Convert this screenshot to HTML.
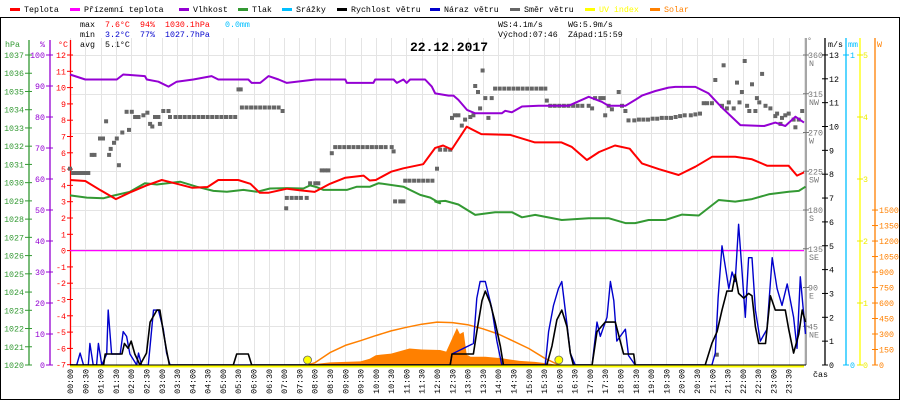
<!DOCTYPE html>
<html><head><meta charset="utf-8"><style>
html,body{margin:0;padding:0;background:#fff;}
svg{display:block;font-family:"Liberation Mono",monospace;font-size:8.3px;}
</style></head><body>
<svg id="chart" width="900" height="400" viewBox="0 0 900 400">
<rect x="0.5" y="17.5" width="899" height="382" fill="#fff" stroke="#000"/>
<g id="legend"></g>
<g>
<text x="80" y="27" fill="#000">max</text><text x="105" y="27" fill="#f00">7.6°C</text><text x="140" y="27" fill="#f00">94%</text><text x="165" y="27" fill="#f00">1030.1hPa</text><text x="225" y="27" fill="#00bfff">0.0mm</text>
<text x="80" y="37" fill="#000">min</text><text x="105" y="37" fill="#00c">3.2°C</text><text x="140" y="37" fill="#00c">77%</text><text x="165" y="37" fill="#00c">1027.7hPa</text>
<text x="80" y="47" fill="#000">avg</text><text x="105" y="47" fill="#000">5.1°C</text>
<text x="498" y="27" fill="#000">WS:4.1m/s</text><text x="568" y="27" fill="#000">WG:5.9m/s</text>
<text x="498" y="37" fill="#000">Východ:07:46</text><text x="568" y="37" fill="#000">Západ:15:59</text>
</g>
<g id="grid"></g>
<g id="axes"></g>
<g id="series"></g>
<g id="xlabels"></g>
<text x="449" y="51" text-anchor="middle" font-size="13" font-weight="bold" fill="#000">22.12.2017</text>
</svg>
<script>
const tempTimes=[0,0.5,1,1.5,2,2.5,3,3.5,4,4.5,4.85,5.5,5.9,6.2,6.5,7.1,7.5,8,8.5,9,9.6,9.8,10,10.5,10.9,11.55,11.94,12.2,12.48,12.97,13.45,14.4,15.2,15.7,16.07,16.4,16.9,17.3,17.82,18.3,18.7,19.25,19.9,20.45,21,21.75,22.3,22.8,23.5,23.77,24];
const tempValues=[4.33,4.27,3.7,3.16,3.6,4.0,4.33,4.1,3.85,3.9,4.33,4.33,4.1,3.55,3.55,3.8,3.7,3.6,4.1,4.47,4.6,4.3,4.33,4.84,5.05,5.3,6.3,6.45,6.2,7.6,7.15,7.1,6.64,6.64,6.64,6.37,5.56,6.05,6.45,6.25,5.35,5.0,4.64,5.15,5.76,5.76,5.6,5.2,5.2,4.6,4.8];
const humTimes=[0,0.5,1.53,1.74,2.45,2.51,2.89,3.22,3.49,4.03,4.63,4.85,5.83,5.94,6.22,6.49,6.82,7.09,8.02,9.0,9.05,9.92,9.98,10.58,10.69,10.9,11.01,11.12,11.61,11.83,11.94,12.38,12.54,12.7,12.98,13.25,14.12,14.23,14.45,14.78,15.32,15.65,16.3,16.96,17.39,17.61,18.16,18.48,18.7,19.14,19.57,19.79,20.45,20.88,21.32,21.92,22.7,23.06,23.39,23.72,24];
const humValues=[93.7,92.1,92.1,93.7,93.2,92.1,91.4,89.8,91.4,92.1,93.2,92.1,92.1,91.0,91.0,93.2,92.1,91.0,92.1,92.1,91.0,91.0,92.1,92.1,91.0,92.1,91.0,92.1,92.1,89.8,87.6,86.9,86.9,85.5,82.3,81.2,81.2,82.0,81.5,83.4,83.6,83.6,83.6,86.5,84.9,83.6,83.6,85.5,86.9,88.4,89.5,89.7,89.7,87.6,83.0,77.4,77.1,78.2,77.1,80.1,78.2];
const presTimes=[0,0.55,1.09,1.42,1.96,2.45,2.84,3.6,4.14,4.69,5.13,5.67,6.11,6.54,7.09,7.63,7.85,8.07,8.29,9.05,9.38,9.81,10.09,10.9,11.45,11.78,12.1,11.94,12.27,12.7,13.25,13.9,14.45,14.78,15.21,16.08,16.96,17.61,18.16,18.48,18.92,19.46,20.01,20.56,21.21,21.75,22.3,22.85,23.5,23.83,24.05];
const presValues=[1029.3,1029.18,1029.14,1029.29,1029.5,1029.97,1029.9,1030.05,1029.78,1029.55,1029.5,1029.6,1029.5,1029.68,1029.7,1029.68,1029.85,1029.75,1029.6,1029.6,1029.78,1029.78,1029.97,1029.78,1029.33,1029.18,1028.87,1028.96,1029.0,1028.8,1028.23,1028.38,1028.38,1028.1,1028.23,1027.95,1028.05,1028.05,1027.78,1027.78,1027.95,1027.95,1028.25,1028.2,1029.05,1028.96,1029.1,1029.36,1029.5,1029.55,1029.78];
const speedTimes=[0,1.1,1.15,1.7,1.78,1.9,2.0,2.12,2.29,2.5,2.62,2.84,2.94,3.05,3.16,3.25,5.34,5.45,5.83,5.94,12.43,12.49,13.19,13.3,13.47,13.58,13.74,13.9,14.07,14.17,15.59,15.76,15.92,16.08,16.25,16.36,16.46,17.07,17.23,17.5,17.83,17.99,18.1,18.43,18.48,20.77,20.99,21.16,21.32,21.48,21.65,21.75,21.86,22.03,22.19,22.3,22.41,22.52,22.74,22.9,23.06,23.39,23.5,23.66,23.83,23.94,24.05];
const speedValues=[0,0,0.46,0.46,0.9,0.7,1.0,0.46,0,0.5,1.8,2.3,2.3,1.4,0.6,0,0,0.46,0.46,0,0,0.46,0.46,1.4,2.7,3.1,2.6,1.8,0.8,0,0,0.8,1.9,2.3,1.6,0.5,0,0,1.4,1.8,1.8,1.0,0.46,0.46,0,0,0.91,1.4,2.3,3.1,3.1,3.8,3.0,2.8,3.0,2.9,1.6,0.9,0.9,2.9,2.3,2.3,1.5,0.5,1.3,2.3,1.8];
const gustTimes=[0,0.22,0.33,0.44,0.6,0.65,0.76,0.87,0.93,1.04,1.2,1.25,1.36,1.64,1.74,1.85,1.96,2.18,2.24,2.34,2.56,2.73,2.89,3.05,3.16,3.27,12.43,12.49,13.19,13.3,13.41,13.58,13.79,13.96,14.12,15.54,15.65,15.81,15.97,16.08,16.25,16.36,16.52,17.07,17.23,17.34,17.56,17.67,17.78,17.88,18.16,18.26,18.48,20.99,21.1,21.19,21.32,21.54,21.65,21.75,21.86,21.97,22.08,22.19,22.3,22.41,22.57,22.79,22.96,23.12,23.28,23.45,23.66,23.77,23.88,24.05];
const gustValues=[0,0,0.5,0,0,0.9,0,0,0.9,0,0.46,2.3,0.46,0.46,1.4,1.2,0.46,0,0.5,0,0,2.3,2.3,1.5,0.5,0,0,0.46,0.9,2.8,3.5,3.5,2.4,1.0,0,0,1.4,2.5,3.2,3.5,1.7,0.5,0,0,1.8,1.2,2.0,3.5,2.7,1.0,1.5,0.4,0,0,0.5,2.8,5.0,3.2,3.9,3.5,5.9,4.0,2.0,4.5,4.5,2.3,1.0,1.5,4.5,3.2,2.5,3.4,2.0,0.7,3.7,1.3,2.0];
const dirTimes=[0,0.1,0.2,0.3,0.4,0.5,0.6,0.71,0.8,0.98,1.08,1.18,1.28,1.33,1.44,1.53,1.6,1.71,1.85,1.93,2.02,2.13,2.24,2.4,2.53,2.62,2.69,2.78,2.89,2.94,3.05,3.22,3.27,3.45,3.6,3.75,3.9,4.05,4.2,4.35,4.5,4.65,4.8,4.95,5.1,5.25,5.4,5.51,5.58,5.62,5.77,5.92,6.07,6.22,6.37,6.52,6.67,6.82,6.95,7.07,7.09,7.25,7.4,7.55,7.74,7.85,8.02,8.12,8.23,8.34,8.45,8.56,8.67,8.82,8.97,9.12,9.27,9.42,9.57,9.72,9.87,10.02,10.17,10.32,10.52,10.58,10.63,10.8,10.9,10.96,11.1,11.25,11.4,11.55,11.7,11.85,12.0,12.1,12.27,12.43,12.49,12.59,12.7,12.81,12.92,13.09,13.19,13.25,13.34,13.41,13.49,13.58,13.68,13.79,13.9,14.05,14.2,14.35,14.5,14.65,14.8,14.95,15.1,15.25,15.4,15.54,15.59,15.7,15.85,16.0,16.15,16.3,16.45,16.6,16.75,16.96,17.07,17.17,17.34,17.45,17.5,17.61,17.72,17.94,18.05,18.16,18.26,18.45,18.6,18.75,18.9,19.05,19.2,19.35,19.5,19.65,19.8,19.95,20.1,20.3,20.45,20.6,20.72,20.83,20.99,21.1,21.15,21.32,21.37,21.48,21.54,21.7,21.81,21.89,21.97,22.06,22.14,22.21,22.3,22.41,22.46,22.54,22.63,22.74,22.9,23.06,23.12,23.23,23.28,23.39,23.5,23.66,23.72,23.83,23.94];
const dirValues=[228,223,223,223,223,223,223,244,244,263,263,283,244,251,258,263,232,270,294,273,294,288,288,290,293,280,277,288,288,280,295,295,288,288,288,288,288,288,288,288,288,288,288,288,288,288,288,320,320,299,299,299,299,299,299,299,299,299,295,182,194,194,194,194,194,211,211,211,226,226,226,246,253,253,253,253,253,253,253,253,253,253,253,253,253,248,190,190,190,214,214,214,214,214,214,214,228,250,250,250,287,290,290,278,285,288,290,324,317,298,342,310,287,310,321,321,321,321,321,321,321,321,321,321,321,321,307,301,301,301,301,301,301,301,301,301,298,310,310,310,290,301,297,317,301,295,284,284,285,285,285,286,286,287,287,287,288,289,290,290,291,292,304,304,304,331,12,301,348,298,305,298,328,305,317,353,301,295,326,295,310,305,338,301,298,289,292,280,287,290,292,285,276,285,295];
const solarTimes=[7.77,8.0,8.5,9.0,9.5,9.8,10.0,10.5,11.1,11.5,12.1,12.3,12.5,12.65,12.75,12.87,12.97,13.1,13.58,14.12,14.7,15.2,15.65,15.97];
const solarValues=[0,10,25,30,35,60,95,110,160,150,145,130,260,358,300,320,100,80,80,65,40,30,15,0];
const solarMaxTimes=[7.77,8.0,8.5,9.0,9.5,10.0,10.5,11.0,11.5,12.0,12.5,13.0,13.5,14.0,14.5,15.0,15.5,15.98];
const solarMaxValues=[0,20,120,190,235,285,330,365,395,415,410,390,350,300,230,160,70,0];
const uvTimes=[0,24];
const uvValues=[0,0];
const groundTempTimes=[0,24];
const groundTempValues=[0,0];
const tempTicks=[12,11,10,9,8,7,6,5,4,3,2,1,0,-1,-2,-3,-4,-5,-6,-7];
const humTicks=[100,90,80,70,60,50,40,30,20,10,0];
const presTicks=[1037,1036,1035,1034,1033,1032,1031,1030,1029,1028,1027,1026,1025,1024,1023,1022,1021,1020];
const dirTicks=[45,90,135,180,225,270,315,360];
const dirNames=["NE","E","SE","S","SW","W","NW","N"];
const speedTicks=[0,1,2,3,4,5,6,7,8,9,10,11,12,13];
const uvTicks=[0,1,2,3,4,5];
const solarTicks=[0,150,300,450,600,750,900,1050,1200,1350,1500];
const legendNames=["Teplota","Přízemní teplota","Vlhkost","Tlak","Srážky","Rychlost větru","Náraz větru","Směr větru","UV index","Solar"];
const legendColors=["#ff0000","#ff00ff","#9400d3","#339933","#00bfff","#000000","#0000cc","#666666","#ffff00","#ff8000"];
const legendX=[10,70,179,238,282,337,430,510,585,650];

const NS="http://www.w3.org/2000/svg";
const X0=70,X1=804,YB=365;
const xS=h=>X0+h*(X1-X0)/24;
const yT=t=>250.6-t*16.3;
const yH=p=>YB-p*3.1;
const yP=p=>YB-(p-1020)*18.235;
const yW=s=>YB-s*23.85;
const yD=d=>YB-d*0.8611;
const yS=w=>YB-w*0.1033;
const yU=u=>YB-u*62;
function mk(tag,attrs,parent){const e=document.createElementNS(NS,tag);for(const k in attrs)e.setAttribute(k,attrs[k]);parent.appendChild(e);return e;}
function txt(s,x,y,fill,anchor,parent){const e=mk('text',{x:x,y:y,fill:fill,'text-anchor':anchor||'start'},parent);e.textContent=s;return e;}
const G=id=>document.getElementById(id);

legendNames.forEach((n,i)=>{
  const g=mk('g',{},G('legend'));
  
  
  mk('rect',{x:legendX[i],y:8,width:10,height:3,fill:legendColors[i]},g);
  txt(n,legendX[i]+14,12,legendColors[i]==="#ffff00"?"#ffff00":(legendColors[i]==="#ff8000"?"#ff8000":"#000"),'start',g);
});

for(let k=0;k<=48;k++){const x=Math.round(xS(k/2))+0.5;const l=mk('line',{x1:x,y1:38,x2:x,y2:YB,stroke:'#e4e4e4','stroke-width':1},G('grid'));}
dirTicks.forEach(d=>{const y=Math.round(yD(d))+0.5;const l=mk('line',{x1:X0,y1:y,x2:X1+2,y2:y,stroke:'#e4e4e4','stroke-width':1},G('grid'));});

const A=G('axes');
function vaxis(x,y1,col,name){const l=mk('line',{x1:x,y1:y1,x2:x,y2:YB,stroke:col,'stroke-width':1.3},A);}
vaxis(29,40,'#339933','pressure-axis');vaxis(50,40,'#9400d3','humidity-axis');vaxis(70.5,40,'#ff0000','temperature-axis');
vaxis(806,38,'#777','direction-axis');vaxis(825,38,'#000','wind-speed-axis');vaxis(846,38,'#00bfff','rain-axis');vaxis(860,38,'#ffff00','uv-axis');vaxis(875,38,'#ff8000','solar-axis');
txt('hPa',5,47,'#339933','start',A);txt('%',40,47,'#9400d3','start',A);txt('°C',58,47,'#ff0000','start',A);
txt('°',807,43,'#777','start',A);txt('m/s',828,47,'#000','start',A);txt('mm',848,47,'#00bfff','start',A);txt('W',877,47,'#ff8000','start',A);
presTicks.forEach(p=>{const y=yP(p);mk('line',{x1:25,y1:y,x2:32,y2:y,stroke:'#339933'},A);txt(String(p),24,y+3,'#339933','end',A);});
humTicks.forEach(p=>{const y=yH(p);mk('line',{x1:46,y1:y,x2:53,y2:y,stroke:'#9400d3'},A);txt(String(p),45,y+3,'#9400d3','end',A);});
tempTicks.forEach(t=>{const y=yT(t);mk('line',{x1:67,y1:y,x2:73,y2:y,stroke:'#ff0000'},A);txt(String(t),66,y+3,'#ff0000','end',A);});
dirTicks.forEach((d,i)=>{const y=yD(d);mk('line',{x1:803,y1:y,x2:809,y2:y,stroke:'#777'},A);txt(String(d),808,y+3,'#777','start',A);txt(dirNames[i],809,y+11,'#777','start',A);});
speedTicks.forEach(s=>{const y=yW(s);mk('line',{x1:822,y1:y,x2:828,y2:y,stroke:'#000'},A);txt(String(s),829,y+3,'#000','start',A);});
[0,1].forEach(m=>{const y=YB-m*310;mk('line',{x1:843,y1:y,x2:849,y2:y,stroke:'#00bfff'},A);txt(String(m),850,y+3,'#00bfff','start',A);});
uvTicks.forEach(u=>{const y=yU(u);mk('line',{x1:857,y1:y,x2:863,y2:y,stroke:'#eeee00'},A);txt(String(u),863,y+3,'#eeee00','start',A);});
solarTicks.forEach(w=>{const y=yS(w);mk('line',{x1:872,y1:y,x2:878,y2:y,stroke:'#ff8000'},A);txt(String(w),879,y+3,'#ff8000','start',A);});
txt('čas',813,377,'#000','start',A);

for(let k=0;k<48;k++){const h=Math.floor(k/2),m=k%2?'30':'00';const s=(h<10?'0':'')+h+':'+m;const x=xS(k/2)+3;const t=mk('text',{x:0,y:0,transform:`translate(${x},369) rotate(-90)`,'text-anchor':'end',fill:'#000'},G('xlabels'));t.textContent=s;}

const S=G('series');
function pts(ts,vs,fy){return ts.map((t,i)=>xS(t).toFixed(1)+','+fy(vs[i]).toFixed(1)).join(' ');}
function line(ts,vs,fy,col,w,name){const p=mk('polyline',{points:pts(ts,vs,fy),fill:'none',stroke:col,'stroke-width':w,'stroke-linejoin':'round'},S);return p;}
{const p=mk('polygon',{points:xS(solarTimes[0]).toFixed(1)+','+YB+' '+pts(solarTimes,solarValues,yS)+' '+xS(solarTimes[solarTimes.length-1]).toFixed(1)+','+YB,fill:'#ff8000'},S);}
line(solarMaxTimes,solarMaxValues,yS,'#ff8000',1.5,'solar-max-line');
line(groundTempTimes,groundTempValues,yT,'#ff00ff',1.2,'ground-temp-line');
dirTimes.forEach((t,i)=>{const r=mk('rect',{x:(xS(t)-2).toFixed(1),y:(yD(dirValues[i])-2).toFixed(1),width:4,height:4,fill:'#666'},S);});
line(humTimes,humValues,yH,'#9400d3',2,'humidity-line');
line(presTimes,presValues,yP,'#339933',2,'pressure-line');
line(tempTimes,tempValues,yT,'#ff0000',2,'temperature-line');
line(gustTimes,gustValues,yW,'#0000cc',1.4,'wind-gust-line');
line(speedTimes,speedValues,yW,'#000',1.6,'wind-speed-line');
{const l=mk('line',{x1:X0,y1:YB,x2:X1+2,y2:YB,stroke:'#000','stroke-width':1},S);}
line(uvTimes,uvValues,v=>yU(v)+1.5,'#ffff00',2,'uv-line');
[7+46/60,15+59/60].forEach(h=>{const c=mk('circle',{cx:xS(h),cy:YB-5,r:4,fill:'#ffff00',stroke:'#666','stroke-width':0.8},S);});
</script>
</body></html>
